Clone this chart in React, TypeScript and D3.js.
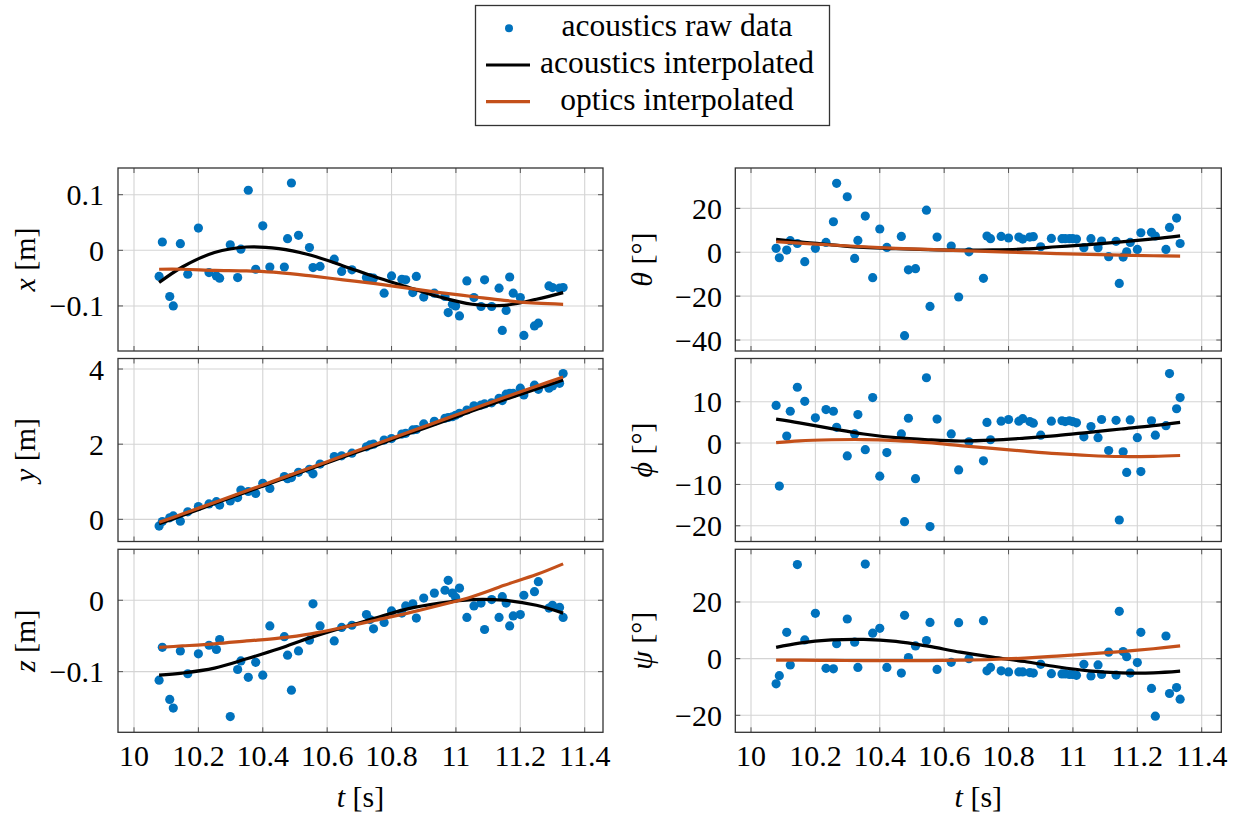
import React from 'react';
import * as d3 from 'd3';

// sample times of the acoustic fixes (s)
const tRaw = [10.078, 10.088, 10.111, 10.122, 10.144, 10.167, 10.200, 10.233, 10.256, 10.266, 10.299, 10.322, 10.332, 10.355, 10.378, 10.400, 10.422, 10.467, 10.477, 10.489, 10.511, 10.545, 10.556, 10.578, 10.622, 10.645, 10.677, 10.722, 10.733, 10.744, 10.777, 10.800, 10.832, 10.844, 10.866, 10.877, 10.900, 10.933, 10.966, 10.976, 10.989, 10.999, 11.011, 11.034, 11.056, 11.078, 11.089, 11.111, 11.134, 11.144, 11.156, 11.167, 11.178, 11.200, 11.211, 11.244, 11.256, 11.289, 11.300, 11.322, 11.333];

const xRaw = [-0.047, 0.015, -0.083, -0.100, 0.012, -0.043, 0.040, -0.040, -0.046, -0.050, 0.010, -0.049, 0.002, 0.108, -0.034, 0.044, -0.030, -0.030, 0.021, 0.121, 0.027, 0.005, -0.031, -0.029, -0.016, -0.038, -0.035, -0.049, -0.049, -0.050, -0.077, -0.046, -0.052, -0.053, -0.076, -0.047, -0.084, -0.077, -0.083, -0.112, -0.097, -0.100, -0.118, -0.055, -0.085, -0.101, -0.053, -0.101, -0.068, -0.144, -0.108, -0.048, -0.077, -0.085, -0.153, -0.136, -0.131, -0.064, -0.067, -0.068, -0.067];
const yRaw = [-0.18, -0.06, 0.04, 0.09, -0.05, 0.20, 0.34, 0.41, 0.47, 0.38, 0.49, 0.58, 0.78, 0.74, 0.69, 0.96, 0.82, 1.14, 1.08, 1.11, 1.25, 1.33, 1.21, 1.47, 1.67, 1.69, 1.76, 1.93, 1.98, 2.00, 2.11, 2.15, 2.27, 2.29, 2.38, 2.39, 2.54, 2.61, 2.69, 2.71, 2.73, 2.77, 2.82, 2.91, 3.02, 3.04, 3.07, 3.10, 3.22, 3.16, 3.33, 3.35, 3.35, 3.49, 3.31, 3.57, 3.46, 3.49, 3.55, 3.62, 3.88];
const zRaw = [-0.112, -0.066, -0.139, -0.151, -0.071, -0.103, -0.075, -0.063, -0.069, -0.055, -0.163, -0.097, -0.085, -0.108, -0.087, -0.105, -0.036, -0.051, -0.077, -0.126, -0.071, -0.056, -0.005, -0.036, -0.057, -0.038, -0.035, -0.020, -0.027, -0.040, -0.031, -0.015, -0.018, -0.008, -0.005, -0.025, 0.003, 0.010, 0.014, 0.028, 0.010, 0.004, 0.017, -0.024, -0.008, -0.004, -0.041, 0.001, -0.024, 0.005, -0.004, -0.036, -0.022, -0.020, 0.007, 0.012, 0.026, -0.011, -0.007, -0.010, -0.024];
const thetaRaw = [1.8, -2.5, 1.0, 5.3, 4.0, -4.3, 1.8, 4.5, 13.9, 31.4, 25.3, -2.8, 5.4, 16.5, -11.6, 10.6, 2.2, 7.2, -38.0, -8.0, -7.5, 19.2, -24.7, 6.9, 2.8, -20.4, 0.2, -11.9, 7.4, 6.2, 7.2, 6.5, 6.9, 6.0, 6.9, 7.1, 2.5, 6.3, 6.2, 6.2, 6.2, 6.2, 6.0, 2.1, 6.2, 2.1, 5.1, -2.0, 5.0, -14.2, -2.2, 0.2, 4.5, 1.3, 8.9, 9.1, 7.4, 1.3, 11.3, 15.6, 4.0];
const phiRaw = [9.1, -10.4, 1.7, 7.7, 13.5, 10.1, 6.1, 8.1, 7.7, 3.8, -3.1, 2.2, 6.9, -1.6, 11.0, -8.0, -2.3, 2.2, -19.0, 6.0, -8.6, 15.8, -20.2, 5.8, 2.2, -6.5, 0.3, -4.3, 5.0, 0.8, 5.3, 5.7, 5.3, 5.9, 5.2, 4.8, 1.9, 5.3, 5.4, 5.2, 5.4, 5.2, 4.9, 1.5, 4.0, 1.3, 5.7, -1.8, 5.5, -18.6, -2.1, -7.1, 5.6, 1.3, -6.9, 5.4, 1.9, 4.2, 16.8, 8.3, 11.0];
const psiRaw = [-8.9, -6.0, 9.3, -2.2, 33.2, 6.6, 16.0, -3.4, -3.6, 5.3, 14.0, 5.8, -3.1, 33.4, 9.0, 10.7, -3.1, -5.1, 15.3, 0.4, 4.5, 6.4, 12.8, -3.8, -1.3, 12.7, 0.0, 13.4, -4.3, -3.1, -4.3, -4.7, -4.7, -4.7, -4.9, -5.1, -2.0, -5.3, -5.4, -5.4, -5.6, -5.6, -5.9, -2.0, -6.1, -2.2, -5.6, 2.3, -5.8, 16.7, 2.5, 0.7, -5.1, -1.4, 9.3, -10.5, -20.3, 8.0, -12.3, -10.2, -14.3];

// interpolated curves, read at these times
const tFit = [10.078, 10.15, 10.25, 10.35, 10.45, 10.55, 10.65, 10.75, 10.85, 10.95, 11.05, 11.15, 11.25, 11.333];
const xAco = [-0.058, -0.030, -0.004, 0.006, 0.003, -0.009, -0.028, -0.048, -0.066, -0.084, -0.097, -0.099, -0.088, -0.076];
const xOpt = [-0.034, -0.034, -0.036, -0.037, -0.040, -0.046, -0.053, -0.060, -0.068, -0.076, -0.083, -0.090, -0.095, -0.097];
const yAco = [-0.12, 0.10, 0.42, 0.73, 1.04, 1.35, 1.66, 1.96, 2.27, 2.57, 2.88, 3.18, 3.47, 3.71];
const yOpt = [-0.08, 0.14, 0.45, 0.76, 1.07, 1.38, 1.69, 2.00, 2.31, 2.62, 2.93, 3.24, 3.54, 3.79];
const zAco = [-0.105, -0.102, -0.095, -0.082, -0.068, -0.052, -0.038, -0.025, -0.012, -0.004, 0.001, 0.000, -0.007, -0.018];
const zOpt = [-0.066, -0.064, -0.061, -0.057, -0.053, -0.047, -0.038, -0.028, -0.018, -0.007, 0.005, 0.021, 0.036, 0.051];
const thetaAco = [5.9, 4.7, 3.4, 2.2, 1.6, 1.2, 1.0, 1.1, 1.5, 2.5, 3.5, 4.7, 6.1, 7.5];
const thetaOpt = [4.8, 4.2, 3.3, 2.5, 1.8, 1.3, 0.75, 0.3, -0.15, -0.6, -1.0, -1.3, -1.6, -1.75];
const phiAco = [5.8, 4.9, 3.5, 2.2, 1.3, 0.8, 0.5, 0.7, 1.2, 1.8, 2.6, 3.4, 4.2, 5.0];
const phiOpt = [0.1, 0.55, 0.8, 0.85, 0.6, 0.1, -0.6, -1.3, -1.95, -2.55, -3.0, -3.25, -3.2, -3.0];
const psiAco = [4.0, 5.5, 6.6, 6.8, 6.1, 4.4, 2.3, 0.55, -1.0, -2.85, -4.3, -5.0, -5.0, -4.4];
const psiOpt = [-0.5, -0.55, -0.6, -0.7, -0.7, -0.7, -0.55, -0.3, 0.2, 0.9, 1.7, 2.5, 3.5, 4.5];

// tick labels
const tTicks = [10, 10.2, 10.4, 10.6, 10.8, 11, 11.2, 11.4];
const xTicks = [-0.1, 0, 0.1];
const yTicks = [0, 2, 4];
const zTicks = [-0.1, 0];
const thetaTicks = [-40, -20, 0, 20];
const phiTicks = [-20, -10, 0, 10];
const psiTicks = [-20, 0, 20];

const legendLabels = ['acoustics raw data', 'acoustics interpolated', 'optics interpolated'];

const BLUE = '#0072bd';
const ORANGE = '#c4501a';
const FONT = '"Liberation Serif", serif';

// layout
const cols = [
  { left: 118, right: 603, t10: 134, t114: 584.7, tick: 104, label: 35 },
  { left: 735.3, right: 1221.3, t10: 751, t114: 1201.7, tick: 722, label: 652 },
];
const rowTop = [168, 358.5, 549.3];
const rowH = 183;

const panels = [
  { sym: 'x', unit: 'm', raw: xRaw, aco: xAco, opt: xOpt, ticks: xTicks, dom: [-0.181, 0.148], col: 0, row: 0 },
  { sym: 'y', unit: 'm', raw: yRaw, aco: yAco, opt: yOpt, ticks: yTicks, dom: [-0.59, 4.28], col: 0, row: 1 },
  { sym: 'z', unit: 'm', raw: zRaw, aco: zAco, opt: zOpt, ticks: zTicks, dom: [-0.185, 0.0714], col: 0, row: 2 },
  { sym: '\u03B8', unit: '\u00B0', raw: thetaRaw, aco: thetaAco, opt: thetaOpt, ticks: thetaTicks, dom: [-45, 38.4], col: 1, row: 0 },
  { sym: '\u03D5', unit: '\u00B0', raw: phiRaw, aco: phiAco, opt: phiOpt, ticks: phiTicks, dom: [-23.8, 20.45], col: 1, row: 1 },
  { sym: '\u03C8', unit: '\u00B0', raw: psiRaw, aco: psiAco, opt: psiOpt, ticks: psiTicks, dom: [-26, 38.6], col: 1, row: 2 },
];

const fmt = (v: number) => (v < 0 ? '\u2212' : '') + String(+Math.abs(v).toFixed(2));
const txt = { fontFamily: FONT, fontSize: 30 };

function Panel({ p }: { p: any }) {
  const c = cols[p.col];
  const top = rowTop[p.row];
  const bottom = top + rowH;
  const xs = d3.scaleLinear().domain([10, 11.4]).range([c.t10, c.t114]);
  const ys = d3.scaleLinear().domain(p.dom).range([bottom, top]);
  const line = d3.line<number>()
    .x((_, i) => xs(tFit[i]))
    .y(d => ys(d))
    .curve(d3.curveCatmullRom.alpha(0.5));
  const tk = 5;
  return (
    <g>
      {tTicks.map(t => (
        <line key={'gx' + t} x1={xs(t)} x2={xs(t)} y1={top} y2={bottom} stroke="#d4d4d4" strokeWidth={1.1} />
      ))}
      {p.ticks.map((v: number) => (
        <line key={'gy' + v} x1={c.left} x2={c.right} y1={ys(v)} y2={ys(v)} stroke="#d4d4d4" strokeWidth={1.1} />
      ))}
      {tTicks.map(t => (
        <g key={'tx' + t} stroke="#555" strokeWidth={1}>
          <line x1={xs(t)} x2={xs(t)} y1={top} y2={top + tk} />
          <line x1={xs(t)} x2={xs(t)} y1={bottom} y2={bottom - tk} />
        </g>
      ))}
      {p.ticks.map((v: number) => (
        <g key={'ty' + v} stroke="#555" strokeWidth={1}>
          <line x1={c.left} x2={c.left + tk} y1={ys(v)} y2={ys(v)} />
          <line x1={c.right} x2={c.right - tk} y1={ys(v)} y2={ys(v)} />
        </g>
      ))}
      {p.raw.map((v: number, i: number) => (
        <circle key={'p' + i} cx={xs(tRaw[i])} cy={ys(v)} r={4.6} fill={BLUE} />
      ))}
      <path d={line(p.aco) || ''} fill="none" stroke="#000" strokeWidth={3.2} />
      <path d={line(p.opt) || ''} fill="none" stroke={ORANGE} strokeWidth={3.2} />
      <rect x={c.left} y={top} width={c.right - c.left} height={rowH} fill="none" stroke="#333" strokeWidth={1.3} />
      {p.ticks.map((v: number) => (
        <text key={'ly' + v} x={c.tick} y={ys(v)} dy="0.35em" textAnchor="end" style={txt}>
          {fmt(v)}
        </text>
      ))}
      <text
        transform={`translate(${c.label},${top + rowH / 2}) rotate(-90)`}
        textAnchor="middle"
        style={txt}
      >
        <tspan fontStyle="italic">{p.sym}</tspan>
        <tspan> [{p.unit}]</tspan>
      </text>
      {p.row === 2 && tTicks.map(t => (
        <text key={'lx' + t} x={xs(t)} y={766} textAnchor="middle" style={txt}>
          {String(+t.toFixed(1))}
        </text>
      ))}
      {p.row === 2 && (
        <text x={(c.left + c.right) / 2} y={807} textAnchor="middle" style={txt}>
          <tspan fontStyle="italic">t</tspan>
          <tspan> [s]</tspan>
        </text>
      )}
    </g>
  );
}

function Legend() {
  const rows = [28.3, 65, 101.7];
  const cx = 677;
  return (
    <g>
      <rect x={475.5} y={5.5} width={354} height={120} fill="#fff" stroke="#333" strokeWidth={1.3} />
      <circle cx={509} cy={rows[0]} r={4} fill={BLUE} />
      <line x1={486} x2={530} y1={rows[1]} y2={rows[1]} stroke="#000" strokeWidth={3.2} />
      <line x1={486} x2={530} y1={rows[2]} y2={rows[2]} stroke={ORANGE} strokeWidth={3.2} />
      {legendLabels.map((s, i) => (
        <text key={s} x={cx} y={rows[i] + 8} textAnchor="middle" style={{ fontFamily: FONT, fontSize: 31.5 }}>{s}</text>
      ))}
    </g>
  );
}

export default function App() {
  return (
    <svg
      width={1248}
      height={819}
      style={{ position: 'absolute', left: 0, top: 0, background: '#fff' }}
    >
      {panels.map(p => <Panel key={p.sym} p={p} />)}
      <Legend />
    </svg>
  );
}
